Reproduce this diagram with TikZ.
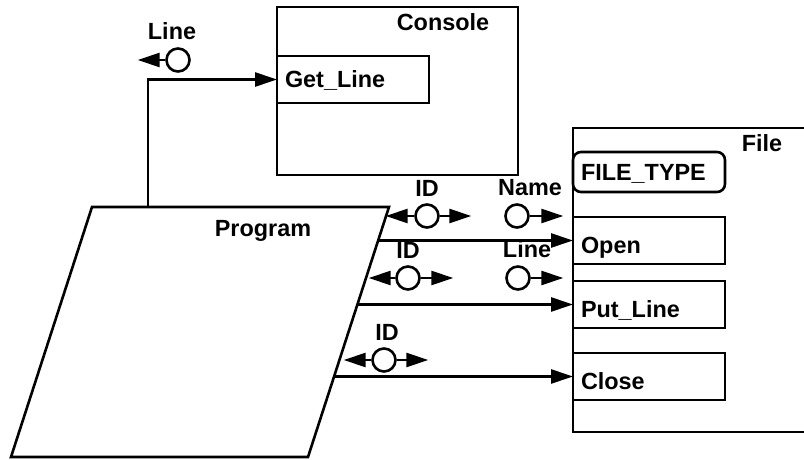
\documentclass[tikz,border=0pt]{standalone}
\usepackage{fontspec}
\setmainfont{Liberation Sans}
\usetikzlibrary{shapes,arrows.meta,positioning,calc}

\begin{document}
\begin{tikzpicture}
  [
    x=0.5pt, y=-0.5pt,
    every node/.style={font=\bfseries\fontsize{11.7}{13}\selectfont},
    Box/.style={draw=black, line width=1.3pt, anchor=north west, outer sep=0pt, inner sep=0pt},
    Op/.style={draw=black, line width=1.3pt, anchor=north west, outer sep=0pt, inner xsep=4pt, inner ysep=0pt,
      text width=68pt, align=left, minimum height=23.5pt, text height=14pt, text depth=1pt},
    Token/.style={circle, draw=black, line width=1.3pt, minimum size=11.5pt, inner sep=0pt},
    Flow/.style={-{Triangle[length=11pt, width=7pt]}, line width=1.3pt}
  ]
  \useasboundingbox (0,0) rectangle (804,460);
  % Program
  \coordinate (pTL) at (92,207);
  \coordinate (pTR) at (389,207);
  \coordinate (pBR) at (308,457);
  \coordinate (pBL) at (11,457);
  \draw[line width=1.3pt] (pTL) -- (pTR) -- (pBR) -- (pBL) -- cycle;
  \node (prog) at (263,231) {Program};
  % Console
  \node[Box, minimum width=120.5pt, minimum height=84pt] (console) at (277,7) {};
  \node (consolelbl) at (443,22) {Console};
  \node[Op, text height=8pt, text depth=0pt] (getline) at (277,56) {Get\_Line};
  % File
  \node[Box, minimum width=118pt, minimum height=152pt] (file) at (573,128) {};
  \node (filelbl) at (762,143) {File};
  \node[Op, rounded corners=4pt, minimum height=20pt, text height=10pt, text depth=1pt] (filetype) at (573,152) {FILE\_TYPE};
  \node[Op] (open) at (573,217) {Open};
  \node[Op] (putline) at (573,281) {Put\_Line};
  \node[Op] (close) at (573,353) {Close};
  % Tokens
  \node[Token, label={[xshift=-3pt]above:Line}] (line1) at (178,60) {};
  \node[Token, label=above:ID] (id1) at (427,216) {};
  \node[Token, label={[xshift=6.5pt]above:Name}] (name) at (517,216) {};
  \node[Token, label=above:ID] (id2) at (408,278) {};
  \node[Token, label={[xshift=4.5pt]above:Line}] (line2) at (518,278) {};
  \node[Token, label={[xshift=1.5pt]above:ID}] (id3) at (384,360) {};
  \path [Flow, draw] (line1.west) -- ++(-27.5,0);
  \path [Flow, draw] (id1.west) -- ++(-28.5,0);
  \path [Flow, draw] (id1.east) -- ++(31.5,0);
  \path [Flow, draw] (name.east) -- ++(33.5,0);
  \path [Flow, draw] (id2.west) -- ++(-26.5,0);
  \path [Flow, draw] (id2.east) -- ++(32.5,0);
  \path [Flow, draw] (line2.east) -- ++(32.5,0);
  \path [Flow, draw] (id3.west) -- ++(-27.5,0);
  \path [Flow, draw] (id3.east) -- ++(31.5,0);
  % Lines
  \coordinate (pGet) at ($(pTL)!{56/297}!(pTR)$);
  \coordinate (pOpen) at ($(pTR)!{33.5/250}!(pBR)$);
  \coordinate (pPut) at ($(pTR)!{97.5/250}!(pBR)$);
  \coordinate (pClose) at ($(pTR)!{169.5/250}!(pBR)$);
  \path [Flow, draw] (pGet) |- (getline.west);
  \path [Flow, draw] (pOpen) -- (pOpen -| open.west);
  \path [Flow, draw] (pPut) -- (pPut -| putline.west);
  \path [Flow, draw] (pClose) -- (pClose -| close.west);
\end{tikzpicture}
\end{document}
